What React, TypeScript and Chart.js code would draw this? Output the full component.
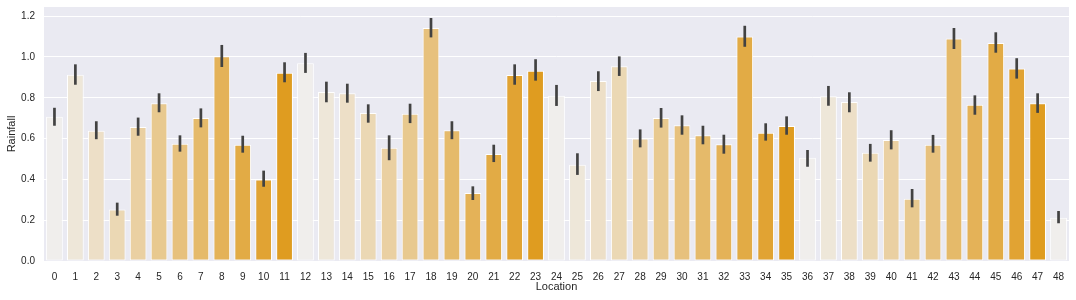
import React, { useEffect, useRef } from "react";
import { Chart, registerables } from "chart.js";

Chart.register(...registerables);

const locations = [
  "0", "1", "2", "3", "4", "5", "6", "7", "8", "9", "10", "11", "12", "13", "14", "15", "16",
  "17", "18", "19", "20", "21", "22", "23", "24", "25", "26", "27", "28", "29", "30", "31", "32",
  "33", "34", "35", "36", "37", "38", "39", "40", "41", "42", "43", "44", "45", "46", "47", "48",
];

const rainfall = [
  0.707, 0.913, 0.639, 0.252, 0.657, 0.773, 0.575, 0.701, 1.003, 0.570, 0.400, 0.923,
  0.969, 0.828, 0.822, 0.725, 0.555, 0.722, 1.142, 0.641, 0.333, 0.525, 0.912, 0.933,
  0.810, 0.472, 0.882, 0.954, 0.600, 0.701, 0.665, 0.616, 0.572, 1.100, 0.629, 0.662,
  0.506, 0.807, 0.779, 0.531, 0.593, 0.305, 0.570, 1.090, 0.766, 1.069, 0.943, 0.773,
  0.212,
];

const ciLow = [
  0.663, 0.864, 0.597, 0.222, 0.614, 0.729, 0.536, 0.655, 0.951, 0.531, 0.364, 0.876,
  0.922, 0.778, 0.776, 0.678, 0.494, 0.676, 1.096, 0.597, 0.299, 0.485, 0.864, 0.884,
  0.760, 0.422, 0.833, 0.907, 0.557, 0.654, 0.619, 0.572, 0.526, 1.050, 0.590, 0.619,
  0.462, 0.761, 0.729, 0.487, 0.547, 0.263, 0.531, 1.039, 0.717, 1.021, 0.894, 0.726,
  0.185,
];

const ciHigh = [
  0.751, 0.964, 0.685, 0.286, 0.703, 0.822, 0.616, 0.748, 1.059, 0.614, 0.443, 0.974,
  1.020, 0.879, 0.869, 0.768, 0.616, 0.771, 1.191, 0.685, 0.366, 0.570, 0.964, 0.989,
  0.863, 0.528, 0.930, 1.003, 0.645, 0.750, 0.714, 0.663, 0.619, 1.153, 0.675, 0.709,
  0.544, 0.858, 0.827, 0.574, 0.641, 0.353, 0.618, 1.142, 0.812, 1.121, 0.994, 0.822,
  0.245,
];

const yTicks = [0, 0.2, 0.4, 0.6, 0.8, 1.0, 1.2];

const palette = [
  "#f0eeec", "#eee7d9", "#eddfc7", "#ebd8b4", "#ead0a2", "#e8c98f",
  "#e7c17d", "#e5ba6a", "#e4b258", "#e2ab45", "#e1a333", "#df9c20",
];

const FONT = "'Liberation Sans', Arial, 'DejaVu Sans', sans-serif";
const TEXT = "#262626";

const bgPlugin = {
  id: "bgPlugin",
  beforeDraw(chart: any) {
    const { ctx, chartArea } = chart;
    if (!chartArea) return;
    ctx.save();
    ctx.fillStyle = "#eaeaf2";
    ctx.fillRect(chartArea.left, chartArea.top, chartArea.right - chartArea.left, chartArea.bottom - chartArea.top);
    ctx.restore();
  },
};

const errPlugin = {
  id: "errPlugin",
  afterDatasetsDraw(chart: any) {
    const { ctx } = chart;
    const xs = chart.scales.x;
    const ys = chart.scales.y;
    ctx.save();
    ctx.strokeStyle = "#424242";
    ctx.lineWidth = 2.7;
    ctx.lineCap = "butt";
    for (let i = 0; i < locations.length; i++) {
      const x = xs.getPixelForValue(i);
      ctx.beginPath();
      ctx.moveTo(x, ys.getPixelForValue(ciLow[i]));
      ctx.lineTo(x, ys.getPixelForValue(ciHigh[i]));
      ctx.stroke();
    }
    ctx.restore();
  },
};

export default function App() {
  const ref = useRef<HTMLCanvasElement | null>(null);
  useEffect(() => {
    if (!ref.current) return;
    const chart = new Chart(ref.current, {
      type: "bar",
      data: {
        labels: locations,
        datasets: [
          {
            data: rainfall,
            backgroundColor: locations.map((_, i) => palette[i % palette.length]),
            borderColor: "#ffffff",
            borderWidth: 1,
            borderSkipped: false,
            barPercentage: 0.8,
            categoryPercentage: 1.0,
          },
        ],
      },
      options: {
        responsive: false,
        animation: false,
        layout: { padding: { top: 7, right: 7, left: 0, bottom: 0 } },
        plugins: { legend: { display: false }, tooltip: { enabled: false } },
        scales: {
          x: {
            type: "category",
            offset: true,
            grid: { display: false, drawTicks: false },
            border: { display: false },
            ticks: { color: TEXT, font: { family: FONT, size: 10 }, padding: 10, maxRotation: 0, autoSkip: false },
            title: { display: true, text: "Location", color: TEXT, font: { family: FONT, size: 11 }, padding: { top: 1, bottom: 6 } },
            afterFit(scale: any) {
              scale.height = 39;
              scale.paddingLeft = 0;
              scale.paddingRight = 0;
            },
          },
          y: {
            min: 0,
            max: 1.245,
            afterBuildTicks(scale: any) { scale.ticks = yTicks.map((v) => ({ value: v })); },
            ticks: { color: TEXT, font: { family: FONT, size: 10 }, padding: 9, callback: (v: any) => Number(v).toFixed(1) },
            grid: { color: "#ffffff", lineWidth: 1, drawTicks: false },
            border: { display: false },
            title: { display: true, text: "Rainfall", color: TEXT, font: { family: FONT, size: 11 }, padding: { top: 5, bottom: 0 } },
            afterFit(scale: any) {
              scale.width = 44;
              scale.paddingTop = 0;
              scale.paddingBottom = 0;
            },
          },
        },
      },
      plugins: [bgPlugin, errPlugin],
    });
    return () => chart.destroy();
  }, []);
  return (
    <div style={{ position: "absolute", left: 0, top: 0, width: 1076, height: 300, background: "#ffffff" }}>
      <canvas ref={ref} width={1076} height={300} style={{ display: "block" }} />
    </div>
  );
}
